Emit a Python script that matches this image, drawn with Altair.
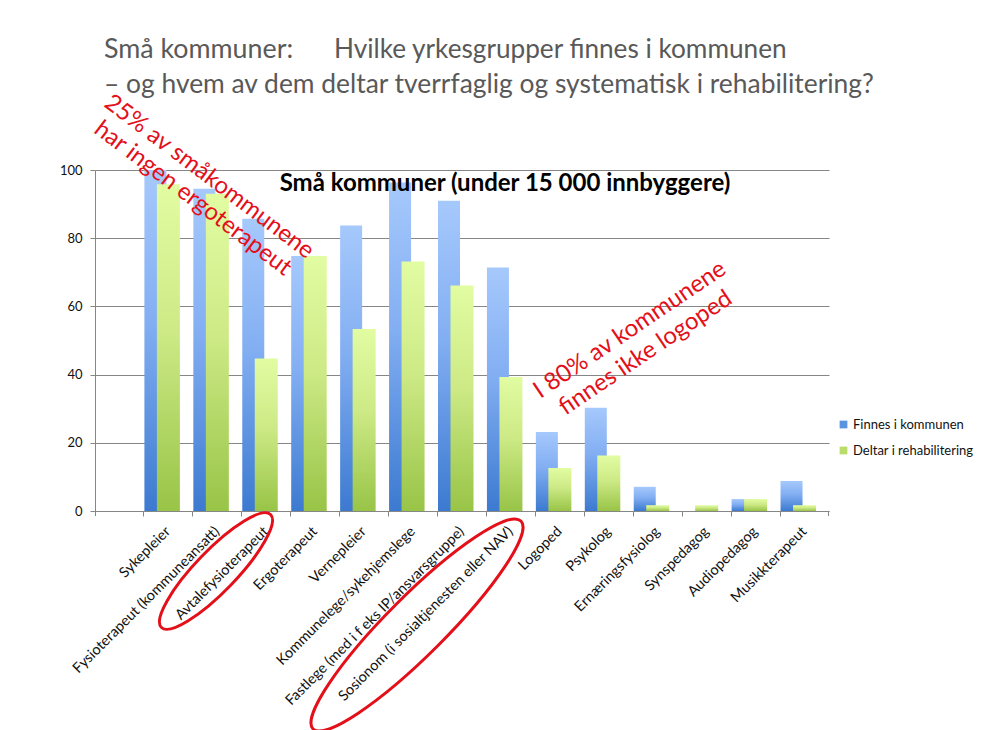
import altair as alt
import pandas as pd

# ---- data ----
categories = [
    "Sykepleier",
    "Fysioterapeut (kommuneansatt)",
    "Avtalefysioterapeut",
    "Ergoterapeut",
    "Vernepleier",
    "Kommunelege/sykehjemslege",
    "Fastlege (med i f eks IP/ansvarsgruppe)",
    "Sosionom (i sosialtjenesten eller NAV)",
    "Logoped",
    "Psykolog",
    "Ernæringsfysiolog",
    "Synspedagog",
    "Audiopedagog",
    "Musikkterapeut",
]
finnes = [100, 94.5, 85.7, 74.8, 83.7, 96.3, 91.0, 71.4, 23.2, 30.3, 7.1, 0, 3.5, 8.8]
deltar = [95.8, 93.0, 44.7, 74.8, 53.4, 73.2, 66.1, 39.3, 12.6, 16.3, 1.7, 1.7, 3.5, 1.7]
series = ["Finnes i kommunen", "Deltar i rehabilitering"]
y_ticks = [0, 10, 20, 30, 40, 50, 60, 70, 80, 90, 100]

title_left = "Små kommuner:"
title_right = "Hvilke yrkesgrupper finnes i kommunen"
title_line2 = "– og hvem av dem  deltar tverrfaglig og systematisk i rehabilitering?"
chart_title = "Små kommuner (under 15 000 innbyggere)"
note1 = ["25% av småkommunene", "har ingen ergoterapeut"]
note2 = ["I 80% av kommunene", "finnes ikke logoped"]

FONT = "Lato"
GRID = "#868686"
RED = "#e3101a"

df = pd.DataFrame({"Yrke": categories, "Finnes": finnes, "Deltar": deltar})
long = pd.DataFrame({
    "Yrke": categories * 2,
    "Serie": [series[0]] * len(categories) + [series[1]] * len(categories),
    "Verdi": finnes + deltar,
})

W, H = 734, 341

xscale = alt.Scale(domain=categories, paddingInner=0, paddingOuter=0.5, align=1)
xaxis = alt.Axis(
    title=None, labelAngle=-45, labelAlign="right", labelBaseline="middle",
    labelFont=FONT, labelFontSize=14.5, labelColor="#111", labelPadding=13,
    tickSize=5, tickColor=GRID, domainColor=GRID, bandPosition=0, grid=False,
    labelOverlap=False, labelLimit=400,
)
yscale = alt.Scale(domain=[0, 100], nice=False)
yaxis = alt.Axis(
    title=None, values=y_ticks, tickCount=10, labelFont=FONT, labelFontSize=13,
    labelColor="#111", tickSize=5, tickColor=GRID, domainColor=GRID,
    gridColor=GRID, grid=True, labelPadding=8, labelOverlap=False,
)

blue_grad = alt.LinearGradient(
    gradient="linear", x1=0, y1=0, x2=0, y2=1,
    stops=[alt.GradientStop(color="#a6c9fc", offset=0),
           alt.GradientStop(color="#82aef2", offset=0.45),
           alt.GradientStop(color="#3c7ad0", offset=1)],
)
green_grad = alt.LinearGradient(
    gradient="linear", x1=0, y1=0, x2=0, y2=1,
    stops=[alt.GradientStop(color="#e2fca2", offset=0),
           alt.GradientStop(color="#cdea86", offset=0.45),
           alt.GradientStop(color="#98c447", offset=1)],
)

base = alt.Chart(df)
blue = base.mark_bar(width=22, xOffset=-13, color=blue_grad).encode(
    x=alt.X("Yrke:N", sort=categories, scale=xscale, axis=xaxis),
    y=alt.Y("Finnes:Q", scale=yscale, axis=yaxis),
)
green = base.mark_bar(width=23, xOffset=0, color=green_grad).encode(
    x=alt.X("Yrke:N", sort=categories, scale=xscale, axis=xaxis),
    y=alt.Y("Deltar:Q", scale=yscale, axis=yaxis),
)

legend_layer = alt.Chart(long).mark_square(opacity=0).encode(
    x=alt.X("Yrke:N", sort=categories, scale=xscale, axis=xaxis),
    y=alt.Y("Verdi:Q", scale=yscale, axis=yaxis),
    color=alt.Color(
        "Serie:N",
        scale=alt.Scale(domain=series, range=["#5b93e0", "#b9dc6a"]),
        legend=alt.Legend(
            title=None, orient="none", legendX=742, legendY=248,
            symbolType="square", symbolSize=60, symbolOpacity=1,
            symbolStrokeWidth=0, labelFont=FONT, labelFontSize=13,
            labelColor="#111", rowPadding=12, labelOffset=3,
        ),
    ),
)


def text_layer(txt, x, y, **kw):
    return alt.Chart(pd.DataFrame({"t": [txt]})).mark_text(**kw).encode(
        x=alt.value(x), y=alt.value(y), text="t:N"
    )


t1 = text_layer(title_left, 9, -112, font=FONT, fontSize=26.8, color="#595959",
                align="left", baseline="alphabetic")
t2 = text_layer(title_right, 239, -112, font=FONT, fontSize=26.2, color="#595959",
                align="left", baseline="alphabetic")
t3 = text_layer(title_line2, 9, -77, font=FONT, fontSize=26.4, color="#595959",
                align="left", baseline="alphabetic")
t4 = text_layer(chart_title, 410, 21, font=FONT, fontSize=24, fontWeight="bold",
                color="#000", align="center", baseline="alphabetic")

# tick marks at both ends of the category axis
tick_left = alt.Chart(pd.DataFrame({"k": [0]})).mark_rule(color=GRID).encode(
    x=alt.value(0.5), y=alt.value(H), y2=alt.value(H + 5),
)
tick_right = alt.Chart(pd.DataFrame({"k": [1]})).mark_rule(color=GRID).encode(
    x=alt.value(W - 0.5), y=alt.value(H), y2=alt.value(H + 5),
)

n1 = alt.Chart(pd.DataFrame({"t": [note1]})).mark_text(
    font=FONT, fontSize=24, color=RED, angle=37, align="center",
    baseline="middle", lineHeight=27,
).encode(x=alt.value(114), y=alt.value(7), text="t")
n2 = alt.Chart(pd.DataFrame({"t": [note2]})).mark_text(
    font=FONT, fontSize=24, color=RED, angle=326, align="center",
    baseline="middle", lineHeight=28,
).encode(x=alt.value(535), y=alt.value(160), text="t")

ELLIPSE1 = "M -1 0 A 1 0.26 0 1 1 1 0 A 1 0.26 0 1 1 -1 0 Z"
ELLIPSE2 = "M -1 0 A 1 0.2 0 1 1 1 0 A 1 0.2 0 1 1 -1 0 Z"
e1 = alt.Chart(pd.DataFrame({"k": [categories[2]]})).mark_point(
    shape=ELLIPSE1, size=157 * 157, angle=314, stroke=RED, strokeWidth=3,
    filled=False, opacity=1,
).encode(x=alt.value(121), y=alt.value(401))
e2 = alt.Chart(pd.DataFrame({"k": [categories[7]]})).mark_point(
    shape=ELLIPSE2, size=294 * 294, angle=315, stroke=RED, strokeWidth=3,
    filled=False, opacity=1,
).encode(x=alt.value(322), y=alt.value(455))

chart = alt.layer(
    blue, green, legend_layer, tick_left, tick_right, t4, n1, n2, e1, e2, t1, t2, t3
).properties(
    width=W, height=H,
    autosize=alt.AutoSizeParams(type="none"),
    padding={"left": 95, "top": 170, "right": 999 - 95 - W, "bottom": 730 - 170 - H},
    background="white",
).configure_view(stroke=None)

chart.save("out.html", embed_options={"renderer": "svg", "actions": False})
